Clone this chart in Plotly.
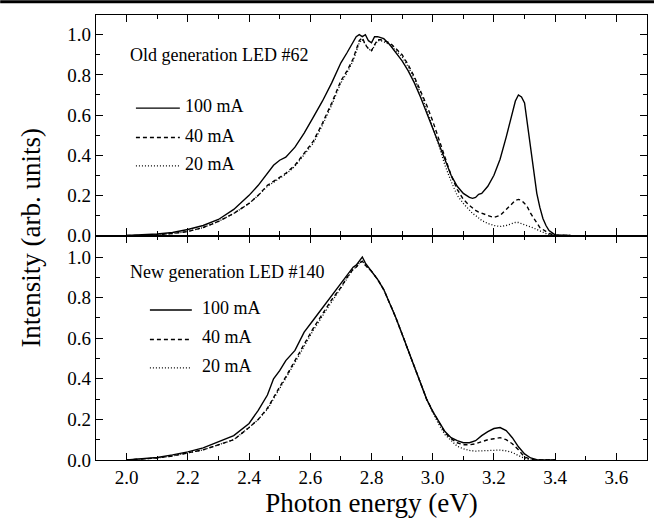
import plotly.graph_objects as go
from plotly.subplots import make_subplots

# ---------------- data ----------------
# Top panel: Old generation LED #62
energy_old = [2.00, 2.05, 2.10, 2.15, 2.20, 2.25, 2.30, 2.35, 2.40, 2.43, 2.46, 2.48, 2.50, 2.52,
              2.55, 2.58, 2.61, 2.64, 2.67, 2.70, 2.72, 2.74, 2.75, 2.76, 2.77, 2.78, 2.79, 2.80,
              2.81, 2.82, 2.83, 2.84, 2.86, 2.88, 2.90, 2.92, 2.94, 2.96, 2.98, 3.00, 3.02, 3.04,
              3.06, 3.08, 3.10, 3.12, 3.13, 3.14, 3.15, 3.16, 3.18, 3.20, 3.22, 3.24, 3.26, 3.27,
              3.28, 3.29, 3.30, 3.31, 3.32, 3.33, 3.34, 3.35, 3.36, 3.37, 3.38, 3.40, 3.45]
old_100mA = [0.0, 0.003, 0.008, 0.015, 0.03, 0.05, 0.08, 0.13, 0.20, 0.25, 0.31, 0.35, 0.375, 0.39,
             0.44, 0.51, 0.59, 0.67, 0.76, 0.86, 0.91, 0.96, 0.99, 1.0, 0.99, 1.0, 0.97, 0.96,
             0.99, 0.99, 0.985, 0.98, 0.95, 0.91, 0.87, 0.82, 0.76, 0.69, 0.61, 0.54, 0.45, 0.37,
             0.30, 0.245, 0.21, 0.19, 0.185, 0.19, 0.205, 0.21, 0.245, 0.30, 0.38, 0.49, 0.62, 0.67,
             0.70, 0.69, 0.66, 0.55, 0.43, 0.32, 0.21, 0.14, 0.085, 0.05, 0.025, 0.003, 0.0]
old_40mA = [0.0, 0.0, 0.004, 0.01, 0.02, 0.04, 0.07, 0.11, 0.16, 0.20, 0.25, 0.27, 0.29, 0.31,
            0.35, 0.41, 0.47, 0.56, 0.66, 0.77, 0.82, 0.88, 0.93, 0.97, 0.985, 0.95, 0.93, 0.92,
            0.95, 0.975, 0.975, 0.97, 0.96, 0.93, 0.90, 0.85, 0.79, 0.72, 0.65, 0.57, 0.48, 0.39,
            0.30, 0.23, 0.18, 0.15, 0.135, 0.125, 0.117, 0.11, 0.10, 0.09, 0.10, 0.13, 0.16, 0.175,
            0.18, 0.175, 0.16, 0.14, 0.11, 0.085, 0.06, 0.04, 0.03, 0.02, 0.01, 0.002, 0.0]
old_20mA = [0.0, 0.0, 0.004, 0.01, 0.02, 0.04, 0.07, 0.11, 0.16, 0.20, 0.245, 0.265, 0.285, 0.305,
            0.345, 0.40, 0.46, 0.55, 0.65, 0.76, 0.81, 0.87, 0.92, 0.96, 0.975, 0.95, 0.93, 0.92,
            0.945, 0.97, 0.97, 0.965, 0.95, 0.92, 0.89, 0.84, 0.78, 0.71, 0.63, 0.54, 0.45, 0.35,
            0.27, 0.20, 0.16, 0.125, 0.11, 0.10, 0.087, 0.075, 0.06, 0.05, 0.045, 0.05, 0.06, 0.065,
            0.065, 0.06, 0.055, 0.05, 0.045, 0.037, 0.03, 0.022, 0.015, 0.01, 0.005, 0.001, 0.0]

# Bottom panel: New generation LED #140
energy_new = [2.00, 2.05, 2.10, 2.15, 2.20, 2.25, 2.30, 2.35, 2.40, 2.43, 2.46, 2.48, 2.50, 2.52,
              2.55, 2.58, 2.61, 2.64, 2.67, 2.70, 2.72, 2.74, 2.75, 2.76, 2.77, 2.78, 2.80, 2.82,
              2.84, 2.86, 2.88, 2.90, 2.92, 2.94, 2.96, 2.98, 3.00, 3.02, 3.04, 3.06, 3.08, 3.10,
              3.12, 3.14, 3.16, 3.18, 3.20, 3.22, 3.24, 3.26, 3.28, 3.30, 3.32, 3.34, 3.40]
new_100mA = [0.0, 0.005, 0.012, 0.025, 0.04, 0.06, 0.09, 0.12, 0.18, 0.245, 0.32, 0.40, 0.44, 0.49,
             0.54, 0.63, 0.69, 0.75, 0.81, 0.87, 0.91, 0.95, 0.96, 0.98, 1.0, 0.97, 0.93, 0.89,
             0.84, 0.77, 0.70, 0.62, 0.54, 0.45, 0.37, 0.30, 0.24, 0.19, 0.14, 0.11, 0.095, 0.085,
             0.085, 0.095, 0.12, 0.14, 0.155, 0.16, 0.145, 0.11, 0.065, 0.03, 0.01, 0.002, 0.0]
new_40mA = [0.0, 0.004, 0.01, 0.02, 0.035, 0.05, 0.075, 0.10, 0.16, 0.20, 0.255, 0.31, 0.36, 0.41,
            0.49, 0.57, 0.65, 0.72, 0.79, 0.85, 0.90, 0.94, 0.95, 0.97, 0.98, 0.96, 0.93, 0.89,
            0.84, 0.77, 0.70, 0.62, 0.54, 0.45, 0.37, 0.30, 0.24, 0.185, 0.135, 0.105, 0.085, 0.075,
            0.075, 0.08, 0.09, 0.10, 0.105, 0.11, 0.10, 0.08, 0.05, 0.015, 0.003, 0.0, 0.0]
new_20mA = [0.0, 0.004, 0.01, 0.02, 0.035, 0.05, 0.075, 0.10, 0.16, 0.20, 0.25, 0.30, 0.35, 0.40,
            0.48, 0.56, 0.64, 0.71, 0.78, 0.85, 0.90, 0.94, 0.95, 0.97, 0.98, 0.96, 0.93, 0.89,
            0.84, 0.77, 0.70, 0.62, 0.54, 0.45, 0.37, 0.30, 0.235, 0.175, 0.125, 0.095, 0.068, 0.055,
            0.047, 0.044, 0.045, 0.047, 0.049, 0.049, 0.045, 0.037, 0.022, 0.008, 0.0, 0.0, 0.0]

series_labels = ["100 mA", "40 mA", "20 mA"]
panel_titles = ["Old generation LED #62", "New generation LED #140"]
x_ticks = [2.0, 2.2, 2.4, 2.6, 2.8, 3.0, 3.2, 3.4, 3.6]
y_ticks = [0.0, 0.2, 0.4, 0.6, 0.8, 1.0]

# ---------------- layout helpers ----------------
W, H = 660, 523
ML, MR, MT, MB = 96, 12, 15, 54
PW, PH = W - ML - MR, H - MT - MB
SPLIT = 240  # pixel row where the two panels meet


def px(p):
    return (p - ML) / PW


def py(p):
    return (H - MB - p) / PH


FONT = "Liberation Serif"
styles = [dict(dash="solid", width=1.4), dict(dash="4px,3px", width=1.4), dict(dash="1px,2px", width=1.3)]

fig = make_subplots(rows=2, cols=1, shared_xaxes=True, vertical_spacing=0,
                    row_heights=[(SPLIT - MT) / PH, (H - MB - SPLIT) / PH])

top_series = [old_100mA, old_40mA, old_20mA]
bot_series = [new_100mA, new_40mA, new_20mA]
for i, lab in enumerate(series_labels):
    fig.add_trace(go.Scatter(x=energy_old, y=top_series[i], mode="lines", name=lab,
                             line=dict(color="black", **styles[i]), showlegend=False), row=1, col=1)
    fig.add_trace(go.Scatter(x=energy_new, y=bot_series[i], mode="lines", name=lab,
                             line=dict(color="black", **styles[i]), showlegend=False), row=2, col=1)

axis_common = dict(showline=True, linecolor="black", linewidth=1.3, mirror="ticks",
                   ticks="inside", ticklen=7, tickwidth=1.3, tickcolor="black",
                   showgrid=False, zeroline=False,
                   tickfont=dict(family=FONT, size=19, color="black"),
                   minor=dict(ticks="inside", ticklen=4, tickwidth=1, tickcolor="black"))

for r in (1, 2):
    fig.update_xaxes(range=[1.9, 3.7], tickvals=x_ticks, ticktext=[f"{v:.1f}" for v in x_ticks],
                     minor_dtick=0.1, minor_tick0=0, row=r, col=1, **axis_common)
fig.update_xaxes(showticklabels=False, row=1, col=1)
fig.update_xaxes(title=dict(text="Photon energy (eV)", font=dict(family=FONT, size=27, color="black"),
                            standoff=4), row=2, col=1)

fig.update_yaxes(range=[0, 1.098], tickvals=y_ticks, ticktext=[f"{v:.1f}" for v in y_ticks],
                 minor_dtick=0.1, minor_tick0=0, row=1, col=1, **axis_common)
fig.update_yaxes(range=[0, 1.106], tickvals=y_ticks, ticktext=[f"{v:.1f}" for v in y_ticks],
                 minor_dtick=0.1, minor_tick0=0, row=2, col=1, **axis_common)

# y axis title spanning both panels
annotations = [dict(text="Intensity (arb. units)", xref="paper", yref="paper",
                    x=px(30), y=py((MT + H - MB) / 2), textangle=-90, showarrow=False,
                    font=dict(family=FONT, size=27, color="black"), xanchor="center", yanchor="middle")]

# panel titles
annotations.append(dict(text=panel_titles[0], xref="paper", yref="paper", x=px(128), y=py(56),
                        showarrow=False, xanchor="left", yanchor="middle",
                        font=dict(family=FONT, size=18, color="black")))
annotations.append(dict(text=panel_titles[1], xref="paper", yref="paper", x=px(128), y=py(277),
                        showarrow=False, xanchor="left", yanchor="middle",
                        font=dict(family=FONT, size=18, color="black")))

# legend-like keys (two blocks)
shapes = []
key_blocks = [
    dict(x0=136, x1=180, tx=183, ys=[108, 138, 167]),
    dict(x0=150, x1=192, tx=200, ys=[314, 344, 373]),
]
for blk in key_blocks:
    for i, lab in enumerate(series_labels):
        yk = blk["ys"][i]
        shapes.append(dict(type="line", xref="paper", yref="paper", x0=px(blk["x0"]), x1=px(blk["x1"]),
                           y0=py(yk + 2), y1=py(yk + 2), line=dict(color="black", **styles[i])))
        annotations.append(dict(text=lab, xref="paper", yref="paper", x=px(blk["tx"]), y=py(yk),
                                showarrow=False, xanchor="left", yanchor="middle",
                                font=dict(family=FONT, size=18, color="black")))

# dark scan line at the very top of the page
shapes.append(dict(type="line", xref="paper", yref="paper", x0=px(0), x1=px(655), y0=py(1.5), y1=py(1.5),
                   line=dict(color="black", width=3)))

fig.update_layout(width=W, height=H, margin=dict(l=ML, r=MR, t=MT, b=MB),
                  paper_bgcolor="white", plot_bgcolor="white",
                  annotations=annotations, shapes=shapes, showlegend=False)

fig.write_html("out.html")
